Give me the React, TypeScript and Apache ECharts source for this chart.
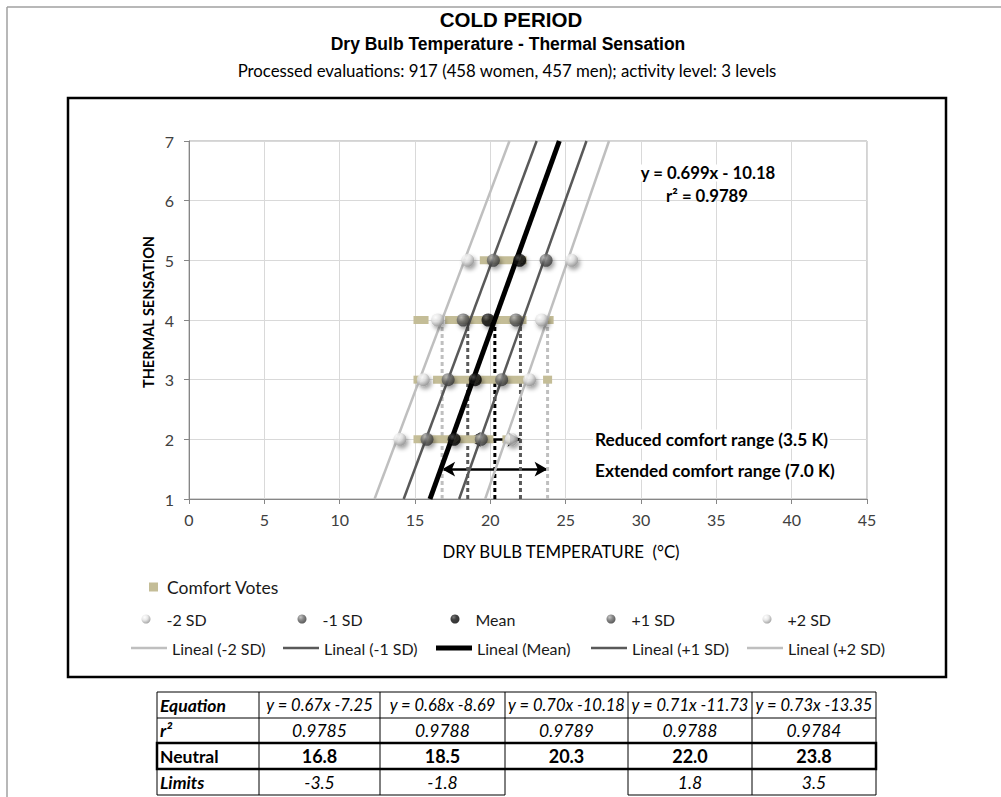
import React, { useEffect, useRef } from "react";
import * as echarts from "echarts";

// ---------- data ----------
const SENSATION_LEVELS = [2, 3, 4, 5];
const POINT_NAMES = ["-2 SD", "-1 SD", "Mean", "+1 SD", "+2 SD"];
const TEMP_MINUS_2SD = [14.0, 15.55, 16.5, 18.5];
const TEMP_MINUS_1SD = [15.8, 17.2, 18.2, 20.2];
const TEMP_MEAN = [17.6, 19.0, 19.85, 21.95];
const TEMP_PLUS_1SD = [19.4, 20.75, 21.7, 23.7];
const TEMP_PLUS_2SD = [21.4, 22.6, 23.4, 25.4];
const POINT_TEMPS = [TEMP_MINUS_2SD, TEMP_MINUS_1SD, TEMP_MEAN, TEMP_PLUS_1SD, TEMP_PLUS_2SD];

const TREND_NAMES = ["Lineal (-2 SD)", "Lineal (-1 SD)", "Lineal (Mean)", "Lineal (+1 SD)", "Lineal (+2 SD)"];
const TREND_SLOPES = [0.67, 0.68, 0.699, 0.71, 0.73];
const TREND_INTERCEPTS = [-7.25, -8.69, -10.18, -11.73, -13.35];

// comfort votes: [from temperature, to temperature, sensation]
const COMFORT_VOTES = [
  [19.3, 22.4, 5],
  [14.9, 15.9, 4],
  [17.0, 22.4, 4],
  [23.8, 24.2, 4],
  [14.9, 15.3, 3],
  [16.2, 22.3, 3],
  [23.5, 24.1, 3],
  [14.9, 20.2, 2],
  [20.8, 21.3, 2],
];

const NEUTRAL_TEMPS = [16.8, 18.5, 20.3, 22.0, 23.8];
const NEUTRAL_LINE_TOP = 4;
const REDUCED_RANGE = [18.5, 22.0, 2];
const EXTENDED_RANGE = [16.8, 23.8, 1.5];

const TABLE_EQUATIONS = ["y = 0.67x -7.25", "y = 0.68x -8.69", "y = 0.70x -10.18", "y = 0.71x -11.73", "y = 0.73x -13.35"];
const TABLE_R2 = ["0.9785", "0.9788", "0.9789", "0.9788", "0.9784"];
const TABLE_NEUTRAL = ["16.8", "18.5", "20.3", "22.0", "23.8"];
const TABLE_LIMITS = ["-3.5", "-1.8", "", "1.8", "3.5"];

const X_MIN = 0, X_MAX = 45, X_STEP = 5;
const Y_MIN = 1, Y_MAX = 7, Y_STEP = 1;

// ---------- styles ----------
const FONT = "Lato, 'Open Sans', sans-serif";
const ARIAL = "'Liberation Sans', Arial, sans-serif";
const SHADE_COLORS = ["#bfbfbf", "#595959", "#000000", "#595959", "#bfbfbf"];
const TREND_WIDTHS = [2.5, 2.5, 5, 2.5, 2.5];
const TAN = "#c4bd97";

const ball = (stops: [number, string][]) => ({
  type: "radial",
  x: 0.35,
  y: 0.3,
  r: 0.75,
  colorStops: stops.map(([offset, color]) => ({ offset, color })),
});
const BALL_COLORS = [
  ball([[0, "#ffffff"], [0.45, "#e2e2e2"], [1, "#8a8a8a"]]),
  ball([[0, "#b8b8b8"], [0.45, "#6a6a6a"], [1, "#2e2e2e"]]),
  ball([[0, "#5a5a5a"], [0.4, "#111111"], [1, "#000000"]]),
  ball([[0, "#b8b8b8"], [0.45, "#6a6a6a"], [1, "#2e2e2e"]]),
  ball([[0, "#ffffff"], [0.45, "#e2e2e2"], [1, "#8a8a8a"]]),
];

const POINT_LEGEND_X = [146, 302, 455, 611, 767];
const LINE_LEGEND_X = [131, 283, 436, 591, 747];

function buildTable() {
  const colX = [157, 259, 380, 505, 628, 752, 876];
  const rowY = [692, 718, 743, 769, 795];
  const els: any[] = [];
  const line = (x1: number, y1: number, x2: number, y2: number, w = 1) =>
    els.push({ type: "line", shape: { x1, y1, x2, y2 }, style: { stroke: "#000", lineWidth: w } });
  const text = (t: string, x: number, y: number, opts: any = {}) =>
    els.push({
      type: "text",
      x,
      y,
      style: {
        text: t,
        fill: "#000",
        fontFamily: FONT,
        fontSize: 17,
        align: "center",
        verticalAlign: "middle",
        ...opts,
      },
    });
  for (let r = 0; r < rowY.length - 1; r++) line(colX[0], rowY[r], colX[6], rowY[r]);
  line(colX[0], rowY[4], colX[3], rowY[4]);
  line(colX[4], rowY[4], colX[6], rowY[4]);
  for (let c = 0; c < colX.length; c++) line(colX[c], rowY[0], colX[c], rowY[4]);
  els.push({
    type: "rect",
    shape: { x: colX[0], y: rowY[2], width: colX[6] - colX[0], height: rowY[3] - rowY[2] },
    style: { fill: "none", stroke: "#000", lineWidth: 2.5 },
  });
  const labels = [
    ["Equation", { fontWeight: "bold", fontStyle: "italic" }],
    ["r²", { fontWeight: "bold", fontStyle: "italic" }],
    ["Neutral", { fontWeight: "bold" }],
    ["Limits", { fontWeight: "bold", fontStyle: "italic" }],
  ] as const;
  labels.forEach(([t, o], r) => text(t, colX[0] + 3, (rowY[r] + rowY[r + 1]) / 2, { align: "left", fontSize: 17.5, ...o }));
  const rows = [TABLE_EQUATIONS, TABLE_R2, TABLE_NEUTRAL, TABLE_LIMITS];
  rows.forEach((vals, r) =>
    vals.forEach((v, c) => {
      if (!v) return;
      const cx = (colX[c + 1] + colX[c + 2]) / 2;
      const cy = (rowY[r] + rowY[r + 1]) / 2;
      if (r === 2) text(v, cx, cy, { fontWeight: "bold", fontSize: 18 });
      else text(v, cx, cy, { fontStyle: "italic", fontSize: r === 0 ? 16.5 : 17.5 });
    })
  );
  return els;
}

export default function App() {
  const ref = useRef<HTMLDivElement>(null);
  useEffect(() => {
    if (!ref.current) return;
    const chart = echarts.init(ref.current, null, { renderer: "svg" });

    const legendText = { fontFamily: FONT, fontSize: 16, color: "#1a1a1a" };
    const legends: any[] = [
      {
        data: ["Comfort Votes"],
        left: 149,
        top: 578,
        padding: 0,
        icon: "rect",
        itemWidth: 9,
        itemHeight: 9,
        selectedMode: false,
        textStyle: { ...legendText, fontSize: 17.5, padding: [0, 0, 0, 4] },
      },
      ...POINT_NAMES.map((n, i) => ({
        data: [n],
        left: POINT_LEGEND_X[i] - 4.5,
        top: 611,
        padding: 0,
        itemWidth: 9,
        itemHeight: 9,
        selectedMode: false,
        textStyle: { ...legendText, padding: [0, 0, 0, 11] },
      })),
      ...TREND_NAMES.map((n, i) => ({
        data: [n],
        left: LINE_LEGEND_X[i],
        top: 640,
        padding: 0,
        icon: "rect",
        itemWidth: 36,
        itemHeight: TREND_WIDTHS[i],
        selectedMode: false,
        textStyle: { ...legendText },
      })),
    ];

    const neutralSeries = NEUTRAL_TEMPS.map((t, i) => ({
      type: "line",
      data: [
        [t, Y_MIN],
        [t, NEUTRAL_LINE_TOP],
      ],
      symbol: "none",
      silent: true,
      lineStyle: { color: SHADE_COLORS[i], width: 3, type: [4, 3] },
      z: 2,
    }));

    const arrowSeries = {
      type: "line",
      data: [],
      silent: true,
      z: 2,
      markLine: {
        silent: true,
        z: 2,
        symbol: ["arrow", "arrow"],
        symbolSize: [11, 13],
        label: { show: false },
        lineStyle: { color: "#000", width: 2.5, type: "solid" },
        data: [REDUCED_RANGE, EXTENDED_RANGE].map(([a, b, y]) => [{ coord: [a, y] }, { coord: [b, y] }]),
      },
    };

    const comfortSeries = {
      name: "Comfort Votes",
      type: "custom",
      data: COMFORT_VOTES,
      encode: { x: [0, 1], y: 2 },
      itemStyle: { color: TAN },
      z: 3,
      renderItem: (_p: any, api: any) => {
        const y = api.value(2);
        const a = api.coord([api.value(0), y]);
        const b = api.coord([api.value(1), y]);
        return {
          type: "rect",
          shape: { x: a[0], y: a[1] - 4, width: b[0] - a[0], height: 8 },
          style: { fill: TAN },
        };
      },
    };

    const trendSeries = TREND_NAMES.map((n, i) => ({
      name: n,
      type: "line",
      data: [
        [(Y_MIN - TREND_INTERCEPTS[i]) / TREND_SLOPES[i], Y_MIN],
        [(Y_MAX - TREND_INTERCEPTS[i]) / TREND_SLOPES[i], Y_MAX],
      ],
      symbol: "none",
      lineStyle: { color: SHADE_COLORS[i], width: TREND_WIDTHS[i] },
      itemStyle: { color: SHADE_COLORS[i] },
      z: 4,
    }));

    const pointSeries = POINT_NAMES.map((n, i) => ({
      name: n,
      type: "scatter",
      data: POINT_TEMPS[i].map((t, j) => [t, SENSATION_LEVELS[j]]),
      symbol: "circle",
      symbolSize: 13,
      itemStyle: {
        color: BALL_COLORS[i],
        shadowBlur: 4,
        shadowColor: "rgba(0,0,0,0.45)",
        shadowOffsetX: 2,
        shadowOffsetY: 3,
      },
      z: 5,
    }));

    const axisLabel = { fontFamily: FONT, fontSize: 16, color: "#404040" };
    const txt = (text: string, x: number, y: number, o: any = {}, extra: any = {}) => ({
      type: "text",
      x,
      y,
      ...extra,
      style: { text, fontFamily: FONT, fill: "#000", align: "center", verticalAlign: "middle", ...o },
    });

    const graphic: any[] = [
      { type: "line", shape: { x1: 7, y1: 7, x2: 1001, y2: 7 }, style: { stroke: "#a0a0a0", lineWidth: 1.5 } },
      { type: "line", shape: { x1: 7, y1: 7, x2: 7, y2: 797 }, style: { stroke: "#a0a0a0", lineWidth: 1.5 } },
      {
        type: "rect",
        shape: { x: 68, y: 98, width: 878, height: 579 },
        style: { fill: "none", stroke: "#000", lineWidth: 2.5 },
      },
      txt("COLD PERIOD", 511, 19, { fontFamily: ARIAL, fontSize: 20.5, fontWeight: "bold" }),
      txt("Dry Bulb Temperature - Thermal Sensation", 508, 44, { fontFamily: ARIAL, fontSize: 17.5, fontWeight: "bold" }),
      txt("Processed evaluations: 917 (458 women, 457 men); activity level: 3 levels", 507, 70, { fontSize: 16.8 }),
      txt("y = 0.699x - 10.18", 708, 173, { fontSize: 16.7, fontWeight: "bold", backgroundColor: "#fff", padding: [0, 2] }, { z: 50 }),
      txt("r² = 0.9789", 707, 196, { fontSize: 16.7, fontWeight: "bold" }, { z: 50 }),
      txt(
        "Reduced comfort range (3.5 K)",
        593,
        439,
        { fontSize: 17.3, fontWeight: "bold", align: "left", backgroundColor: "#fff", padding: [1, 2] },
        { z: 50 }
      ),
      txt(
        "Extended comfort range (7.0 K)",
        593,
        470,
        { fontSize: 17.3, fontWeight: "bold", align: "left", backgroundColor: "#fff", padding: [1, 2] },
        { z: 50 }
      ),
      txt("DRY BULB TEMPERATURE  (°C)", 561, 551, { fontSize: 16.8 }),
      txt("THERMAL SENSATION", 148, 312, { fontSize: 14.5, fontWeight: "bold" }, { rotation: Math.PI / 2 }),
      ...buildTable(),
    ];

    chart.setOption({
      animation: false,
      backgroundColor: "#ffffff",
      textStyle: { fontFamily: FONT },
      grid: {
        left: 189,
        right: 134,
        top: 141,
        bottom: 298,
        show: true,
        borderColor: "#a6a6a6",
        borderWidth: 1,
        backgroundColor: "transparent",
      },
      xAxis: {
        type: "value",
        min: X_MIN,
        max: X_MAX,
        interval: X_STEP,
        axisLine: { show: true, lineStyle: { color: "#868686", width: 1 } },
        axisTick: { show: true, length: 5, lineStyle: { color: "#868686" } },
        axisLabel: { ...axisLabel, margin: 12 },
        splitLine: { show: true, lineStyle: { color: "#d9d9d9", width: 1 } },
      },
      yAxis: {
        type: "value",
        min: Y_MIN,
        max: Y_MAX,
        interval: Y_STEP,
        axisLine: { show: true, lineStyle: { color: "#868686", width: 1 } },
        axisTick: { show: true, length: 5, lineStyle: { color: "#868686" } },
        axisLabel: { ...axisLabel, margin: 15 },
        splitLine: { show: true, lineStyle: { color: "#d9d9d9", width: 1 } },
      },
      legend: legends,
      series: [...neutralSeries, arrowSeries, comfortSeries, ...trendSeries, ...pointSeries],
      graphic,
    });
    return () => chart.dispose();
  }, []);
  return <div ref={ref} style={{ position: "absolute", left: 0, top: 0, width: 1001, height: 797 }} />;
}
